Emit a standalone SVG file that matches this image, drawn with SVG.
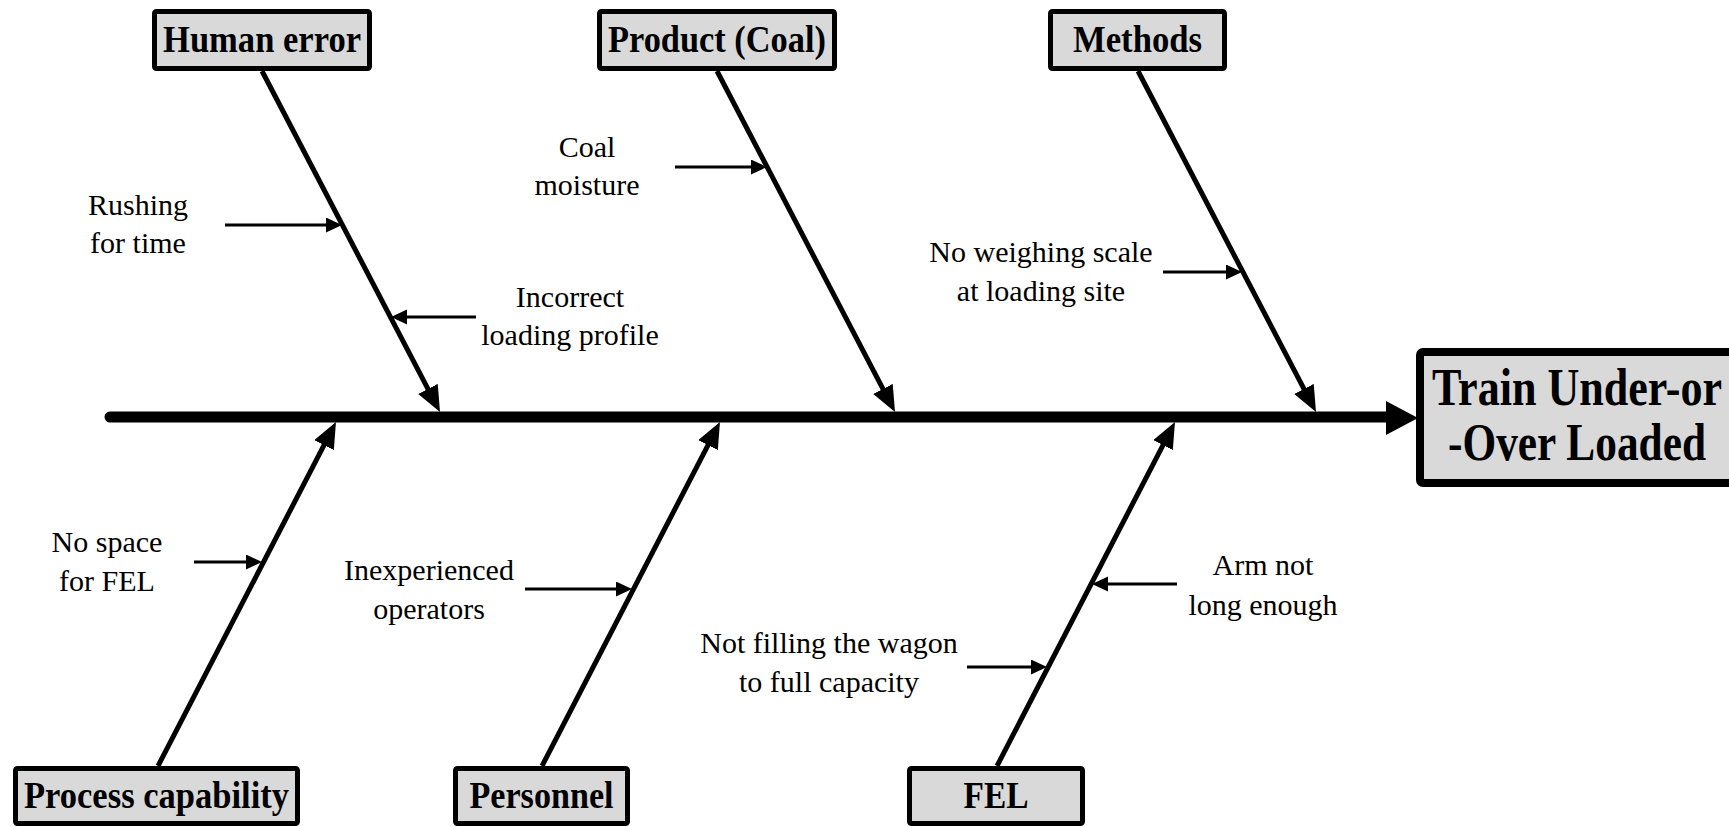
<svg xmlns="http://www.w3.org/2000/svg" width="1729" height="826" viewBox="0 0 1729 826">
<style>
.box{fill:#d9d9d9;stroke:#000;stroke-width:5}
.bigbox{fill:#d9d9d9;stroke:#000;stroke-width:8}
.cat{font-family:"Liberation Serif","Times New Roman",serif;font-weight:bold;font-size:37px;text-anchor:middle;fill:#000}
.eff{font-family:"Liberation Serif","Times New Roman",serif;font-weight:bold;font-size:52px;text-anchor:middle;fill:#000}
.lbl{font-family:"Liberation Serif","Times New Roman",serif;font-size:30px;text-anchor:middle;fill:#000}
.bone{stroke:#000;stroke-width:5;fill:none}
.sub{stroke:#000;stroke-width:3;fill:none}
</style>
<defs>
<marker id="hb" markerUnits="userSpaceOnUse" markerWidth="28" markerHeight="24" refX="18" refY="11" orient="auto"><path d="M0,0 L26,11 L0,22 z" fill="#000"/></marker>
<marker id="hs" markerUnits="userSpaceOnUse" markerWidth="18" markerHeight="16" refX="12" refY="7.5" orient="auto"><path d="M0,0 L16,7.5 L0,15 z" fill="#000"/></marker>
</defs>
<rect width="1729" height="826" fill="#fff"/>
<g id="connectors">
<line x1="110" y1="417" x2="1392" y2="417" stroke="#000" stroke-width="11" stroke-linecap="round"/>
<polygon points="1386,401 1418,418 1386,435" fill="#000"/>
<line class="bone" x1="262" y1="71" x2="436.3" y2="404.9" marker-end="url(#hb)"/>
<line class="bone" x1="717" y1="71" x2="891.3" y2="404.9" marker-end="url(#hb)"/>
<line class="bone" x1="1138" y1="71" x2="1312.3" y2="404.9" marker-end="url(#hb)"/>
<line class="bone" x1="158" y1="766" x2="332.3" y2="429.1" marker-end="url(#hb)"/>
<line class="bone" x1="542" y1="766" x2="716.3" y2="429.1" marker-end="url(#hb)"/>
<line class="bone" x1="997" y1="766" x2="1171.3" y2="429.1" marker-end="url(#hb)"/>
<line class="sub" x1="225" y1="225" x2="338" y2="225" marker-end="url(#hs)"/>
<line class="sub" x1="476" y1="317" x2="395" y2="317" marker-end="url(#hs)"/>
<line class="sub" x1="675" y1="167" x2="763" y2="167" marker-end="url(#hs)"/>
<line class="sub" x1="1163" y1="272" x2="1238" y2="272" marker-end="url(#hs)"/>
<line class="sub" x1="194" y1="562" x2="258" y2="562" marker-end="url(#hs)"/>
<line class="sub" x1="525" y1="589" x2="628" y2="589" marker-end="url(#hs)"/>
<line class="sub" x1="1177" y1="584" x2="1096" y2="584" marker-end="url(#hs)"/>
<line class="sub" x1="967" y1="667" x2="1043" y2="667" marker-end="url(#hs)"/>
</g>
<g id="human-error"><rect class="box" x="154.5" y="11.5" width="215" height="57" rx="2"/><text class="cat" x="262" y="52" textLength="198" lengthAdjust="spacingAndGlyphs">Human error</text></g>
<g id="product-coal"><rect class="box" x="599.5" y="11.5" width="235" height="57" rx="2"/><text class="cat" x="717" y="52" textLength="218" lengthAdjust="spacingAndGlyphs">Product (Coal)</text></g>
<g id="methods"><rect class="box" x="1050.5" y="11.5" width="174" height="57" rx="2"/><text class="cat" x="1137.5" y="52" textLength="129" lengthAdjust="spacingAndGlyphs">Methods</text></g>
<g id="process-capability"><rect class="box" x="15.5" y="768.5" width="282" height="55" rx="2"/><text class="cat" x="156.5" y="808" textLength="265" lengthAdjust="spacingAndGlyphs">Process capability</text></g>
<g id="personnel"><rect class="box" x="455.5" y="768.5" width="172" height="55" rx="2"/><text class="cat" x="541.5" y="808" textLength="144" lengthAdjust="spacingAndGlyphs">Personnel</text></g>
<g id="fel"><rect class="box" x="909.5" y="768.5" width="173" height="55" rx="2"/><text class="cat" x="996" y="808" textLength="65" lengthAdjust="spacingAndGlyphs">FEL</text></g>
<g id="effect"><rect class="bigbox" x="1420" y="352" width="330" height="131" rx="3"/><text class="eff" x="1577" y="405" textLength="290" lengthAdjust="spacingAndGlyphs">Train Under-or</text><text class="eff" x="1577" y="460" textLength="258" lengthAdjust="spacingAndGlyphs">-Over Loaded</text></g>
<g id="rushing"><text class="lbl" x="138" y="215">Rushing</text><text class="lbl" x="138" y="253">for time</text></g>
<g id="incorrect"><text class="lbl" x="570" y="307">Incorrect</text><text class="lbl" x="570" y="345">loading profile</text></g>
<g id="coal-moisture"><text class="lbl" x="587" y="157">Coal</text><text class="lbl" x="587" y="195">moisture</text></g>
<g id="no-weighing"><text class="lbl" x="1041" y="262">No weighing scale</text><text class="lbl" x="1041" y="301">at loading site</text></g>
<g id="no-space"><text class="lbl" x="107" y="552">No space</text><text class="lbl" x="107" y="591">for FEL</text></g>
<g id="inexperienced"><text class="lbl" x="429" y="580">Inexperienced</text><text class="lbl" x="429" y="619">operators</text></g>
<g id="arm-not"><text class="lbl" x="1263" y="575">Arm not</text><text class="lbl" x="1263" y="615">long enough</text></g>
<g id="not-filling"><text class="lbl" x="829" y="653">Not filling the wagon</text><text class="lbl" x="829" y="692">to full capacity</text></g>
</svg>
